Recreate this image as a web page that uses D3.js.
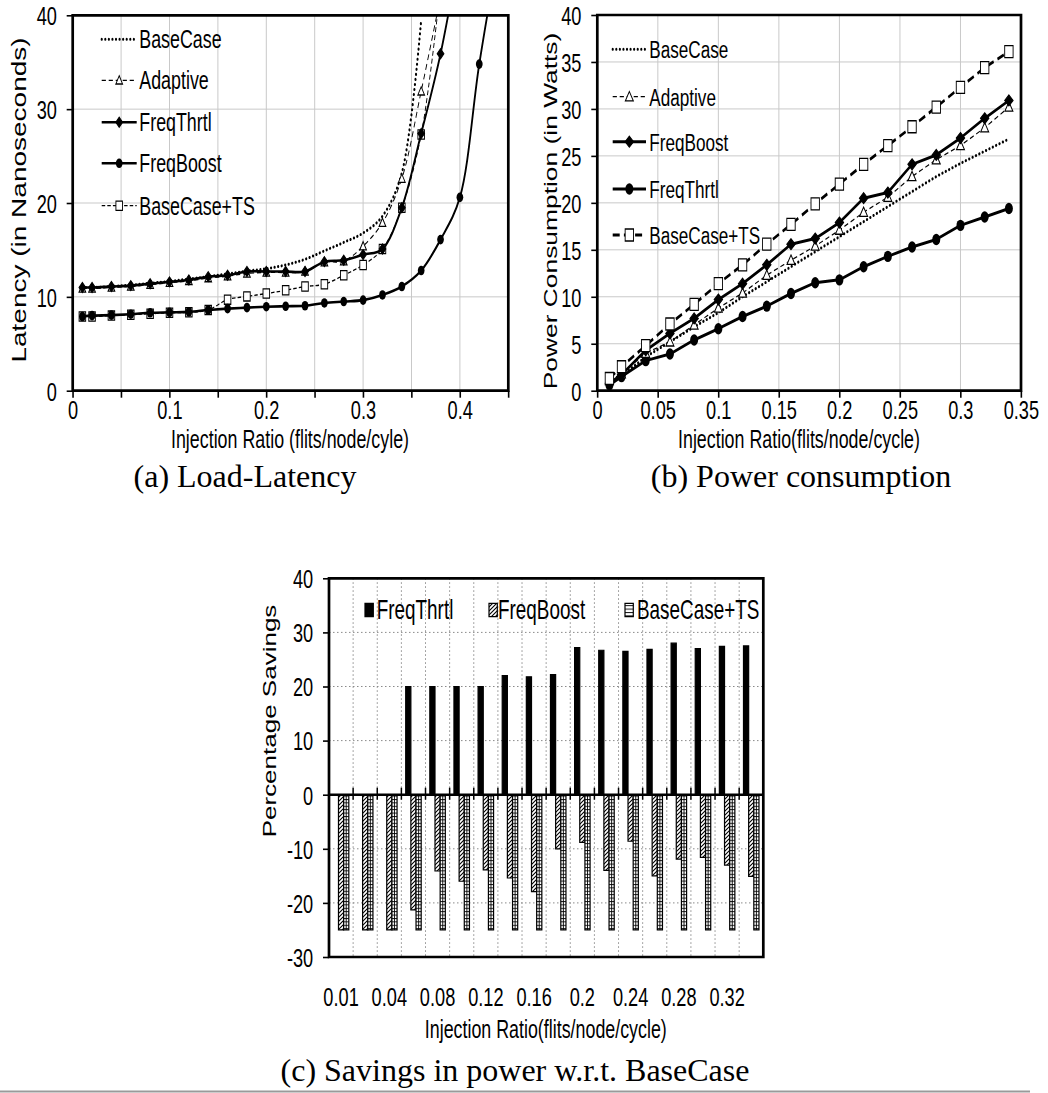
<!DOCTYPE html>
<html>
<head>
<meta charset="utf-8">
<script src="https://cdn.jsdelivr.net/npm/d3@7"></script>
<style>
  body { margin: 0; background: #fff; }
  svg { display: block; }
</style>
</head>
<body>
<svg id="fig" width="1048" height="1093"></svg>
<script>
// ---------- data: (a) latency vs injection ratio ----------
const latencyRates  = [0.01,0.02,0.04,0.06,0.08,0.10,0.12,0.14,0.16,0.18,0.20,0.22,0.24,0.26,0.28,0.30,0.32,0.34,0.36,0.38,0.40,0.42,0.44];
const latBaseCase   = [11.0,11.0,11.1,11.25,11.45,11.65,11.9,12.15,12.45,12.75,13.0,13.4,14.0,14.9,15.8,16.8,18.6,23.2,39.5];
const latAdaptive   = [10.9,10.9,11.0,11.1,11.3,11.5,11.7,12.0,12.2,12.5,12.6,12.6,12.7,13.7,13.8,15.4,17.9,22.6,31.9,42.0];
const latFreqThrtl  = [11.0,11.0,11.1,11.2,11.4,11.6,11.8,12.15,12.3,12.7,12.7,12.7,12.7,13.75,13.9,14.5,15.1,19.5,27.4,35.9,47.0];
const latFreqBoost  = [7.9,8.0,8.05,8.15,8.3,8.35,8.4,8.6,8.75,8.85,8.95,9.0,9.05,9.35,9.5,9.65,10.2,11.1,12.8,16.1,20.6,34.8,47.0];
const latBaseCaseTS = [7.9,7.9,8.0,8.1,8.2,8.3,8.35,8.6,9.7,10.05,10.35,10.7,11.1,11.35,12.3,13.4,15.1,19.5,27.3,43.0];
const latXTicks = [0,0.05,0.10,0.15,0.20,0.25,0.30,0.35,0.40,0.45];
const latYTicks = [0,10,20,30,40];

// ---------- data: (b) power vs injection ratio ----------
const powerRates    = [0.01,0.02,0.04,0.06,0.08,0.10,0.12,0.14,0.16,0.18,0.20,0.22,0.24,0.26,0.28,0.30,0.32,0.34];
const pwrBaseCase   = [0.8,1.6,3.6,5.2,6.8,8.3,10.0,11.6,13.2,14.8,16.4,18.0,19.6,21.2,22.8,24.2,25.5,26.8];
const pwrAdaptive   = [1.1,1.8,4.0,5.2,7.0,8.8,10.4,12.3,13.9,15.4,17.1,19.0,20.6,22.8,24.6,26.1,28.0,30.2];
const pwrFreqBoost  = [0.8,1.7,4.3,6.1,7.7,9.7,11.4,13.4,15.6,16.2,17.9,20.5,21.1,24.1,25.1,26.9,29.0,30.9];
const pwrFreqThrtl  = [0.6,1.5,3.2,3.9,5.4,6.6,7.9,9.0,10.35,11.5,11.8,13.2,14.3,15.3,16.1,17.6,18.5,19.4];
const pwrBaseCaseTS = [1.3,2.55,4.8,7.1,9.2,11.4,13.4,15.6,17.7,19.9,22.0,24.1,26.1,28.1,30.2,32.3,34.4,36.1];
const pwrXTicks = [0,0.05,0.10,0.15,0.20,0.25,0.30,0.35];
const pwrYTicks = [0,5,10,15,20,25,30,35,40];

// ---------- data: (c) savings w.r.t. BaseCase ----------
const savCategories  = ["0.01","0.02","0.04","0.06","0.08","0.1","0.12","0.14","0.16","0.18","0.2","0.22","0.24","0.26","0.28","0.3","0.32","0.34"];
const savFreqThrtl   = [0,0,0,20,20,20,20,22,21.8,22.2,27.2,26.7,26.5,26.85,28,27,27.4,27.5];
const savFreqBoost   = [-25,-25,-25,-21.3,-14.1,-16,-13.9,-15.4,-17.9,-10,-8.8,-14,-8.6,-15,-11.9,-11.6,-13,-15.1];
const savBaseCaseTS  = [-25,-25,-25,-25,-25,-25,-25,-25,-25,-25,-25,-25,-25,-25,-25,-25,-25,-25];
const savLabelled    = ["0.01","0.04","0.08","0.12","0.16","0.2","0.24","0.28","0.32"];
const savYTicks      = [-30,-20,-10,0,10,20,30,40];

// ---------- drawing ----------
const SX = 0.7;                       // horizontal squeeze of the chart artwork
const vx = x => x / SX;               // page x -> squeezed user x
const FONT = '"Liberation Sans", Arial, Helvetica, sans-serif';
const SERIF = '"Liberation Serif", "Times New Roman", serif';
const TICK_FONT = 26;
const TITLE_FONT = 25.5;
const svg = d3.select('#fig');
const defs = svg.append('defs');

// fill patterns for the bar chart (counter-squeezed so the hatch stays diagonal)
const hatch = defs.append('pattern').attr('id', 'hatch')
  .attr('patternUnits', 'userSpaceOnUse').attr('width', 4).attr('height', 4)
  .attr('patternTransform', `scale(${1 / SX},1)`);
hatch.append('rect').attr('width', 4).attr('height', 4).attr('fill', '#fff');
hatch.append('path').attr('d', 'M-1,1 l2,-2 M0,4 l4,-4 M3,5 l2,-2')
  .attr('stroke', '#000').attr('stroke-width', 1.1);
const ladder = defs.append('pattern').attr('id', 'ladder')
  .attr('patternUnits', 'userSpaceOnUse').attr('width', 10).attr('height', 3.4);
ladder.append('rect').attr('width', 10).attr('height', 3.4).attr('fill', '#fff');
ladder.append('line').attr('x1', 0).attr('x2', 10).attr('y1', 0.5).attr('y2', 0.5)
  .attr('stroke', '#000').attr('stroke-width', 0.9);

// marker shapes (user units, before squeeze)
function markerPath(kind, s) {
  if (kind === 'diamond') return `M0,${-s.h} L${s.w},0 L0,${s.h} L${-s.w},0 Z`;
  if (kind === 'square')  return `M${-s.w},${-s.h} H${s.w} V${s.h} H${-s.w} Z`;
  if (kind === 'triangle') return `M0,${-s.h} L${s.w},${s.h * 0.8} L${-s.w},${s.h * 0.8} Z`;
  return null;
}
function drawMarker(g, kind, cx, cy, size) {
  if (!kind) return;
  if (kind === 'circle') {
    g.append('circle').attr('cx', cx).attr('cy', cy).attr('r', size.r).attr('fill', '#000');
    return;
  }
  const filled = kind === 'diamond';
  g.append('path').attr('d', markerPath(kind, size[kind]))
    .attr('transform', `translate(${cx},${cy})`)
    .attr('fill', filled ? '#000' : '#fff')
    .attr('stroke', '#000').attr('stroke-width', 1.3);
}

let clipId = 0;
function linePanel(cfg) {
  const g = svg.append('g').attr('transform', `scale(${SX},1)`).attr('font-family', FONT);
  const x = d3.scaleLinear().domain(cfg.xDomain).range([vx(cfg.left), vx(cfg.right)]);
  const y = d3.scaleLinear().domain([0, 40]).range([cfg.bottom, cfg.top]);

  // light grid
  const grid = g.append('g').attr('stroke', '#c9c9c9').attr('stroke-width', 1);
  grid.selectAll('.gx').data(cfg.xTicks.slice(1, -1)).join('line')
    .attr('x1', d => x(d)).attr('x2', d => x(d)).attr('y1', cfg.top).attr('y2', cfg.bottom)
    .attr('vector-effect', 'non-scaling-stroke');
  grid.selectAll('.gy').data(cfg.yTicks.slice(1, -1)).join('line')
    .attr('x1', x.range()[0]).attr('x2', x.range()[1]).attr('y1', d => y(d)).attr('y2', d => y(d))
    .attr('vector-effect', 'non-scaling-stroke');

  // axes
  const xa = g.append('g').attr('transform', `translate(0,${cfg.bottom})`)
    .call(d3.axisBottom(x).tickValues(cfg.xTicks).tickSize(7).tickFormat(cfg.xFormat));
  xa.select('.domain').remove();
  xa.attr('font-family', FONT).attr('font-size', TICK_FONT);
  xa.selectAll('line').attr('stroke-width', 1.6).attr('vector-effect', 'non-scaling-stroke');
  xa.selectAll('text').attr('y', 28.8).attr('dy', null).attr('fill', '#000');

  const ya = g.append('g').attr('transform', `translate(${x.range()[0]},0)`)
    .call(d3.axisLeft(y).tickValues(cfg.yTicks).tickSize(8.6).tickPadding(cfg.yPad)
      .tickFormat(d => String(d)));
  ya.select('.domain').remove();
  ya.attr('font-family', FONT).attr('font-size', TICK_FONT);
  ya.selectAll('line').attr('stroke-width', 1.6).attr('vector-effect', 'non-scaling-stroke');
  ya.selectAll('text').attr('dy', '0.36em').attr('fill', '#000');

  // data lines, clipped to the plot box
  const cid = 'clip' + (clipId++);
  defs.append('clipPath').attr('id', cid).append('rect')
    .attr('x', x.range()[0]).attr('y', cfg.top)
    .attr('width', x.range()[1] - x.range()[0]).attr('height', cfg.bottom - cfg.top);
  const plot = g.append('g').attr('clip-path', `url(#${cid})`);
  cfg.series.forEach(s => {
    const pts = s.values.map((v, i) => [cfg.xs[i], v]);
    const line = d3.line().x(d => x(d[0])).y(d => y(d[1])).curve(cfg.curve);
    plot.append('path').attr('d', line(pts)).attr('fill', 'none')
      .attr('stroke', '#000').attr('stroke-width', s.width)
      .attr('stroke-dasharray', s.dash).attr('stroke-linecap', s.cap || 'butt')
      .attr('stroke-linejoin', 'round');
    pts.forEach(p => drawMarker(plot, s.marker, x(p[0]), y(p[1]), cfg.markerSize));
  });

  // legend
  const lg = g.append('g');
  cfg.legend.forEach((s, i) => {
    const cy = cfg.legendRows[i];
    lg.append('line').attr('x1', vx(cfg.legendX[0])).attr('x2', vx(cfg.legendX[1]))
      .attr('y1', cy).attr('y2', cy).attr('stroke', '#000').attr('stroke-width', s.width)
      .attr('stroke-dasharray', s.dash).attr('stroke-linecap', s.cap || 'butt');
    drawMarker(lg, s.marker, vx((cfg.legendX[0] + cfg.legendX[1]) / 2), cy, cfg.markerSize);
    lg.append('text').attr('x', vx(cfg.legendX[2])).attr('y', cy + 0.36 * cfg.legendFont)
      .attr('font-size', cfg.legendFont).text(s.name);
  });

  // frame
  g.append('rect').attr('x', x.range()[0]).attr('y', cfg.top)
    .attr('width', x.range()[1] - x.range()[0]).attr('height', cfg.bottom - cfg.top)
    .attr('fill', 'none').attr('stroke', '#000').attr('stroke-width', 2.7)
    .attr('vector-effect', 'non-scaling-stroke');

  // titles
  g.append('text').attr('x', vx(cfg.xTitle[0])).attr('y', cfg.xTitle[1])
    .attr('text-anchor', 'middle').attr('font-size', TITLE_FONT).text(cfg.xTitle[2]);
  g.append('text').attr('transform', `translate(${vx(cfg.yTitle[0])},${cfg.yTitle[1]}) rotate(-90)`)
    .attr('text-anchor', 'middle').attr('font-size', cfg.yTitle[3]).text(cfg.yTitle[2]);
  return g;
}

const fmtTick = d => String(+d.toFixed(2));

// styles shared by both line panels
const stBase   = { width: 3, dash: '0.1 5', cap: 'round', marker: null };
const stAdapt  = { width: 1.3, dash: '6 4', marker: 'triangle' };

// (a) Load-Latency
linePanel({
  left: 72.7, right: 508.3, top: 15.3, bottom: 390.7,
  xDomain: [0, 0.45], xTicks: latXTicks, yTicks: latYTicks,
  xFormat: d => (Math.round(d * 100) % 10 === 0 && d < 0.44) ? fmtTick(d) : '',
  yPad: 14, xs: latencyRates, curve: d3.curveCatmullRom.alpha(0.5),
  markerSize: { r: 4.8, diamond: { w: 4.8, h: 5 }, square: { w: 4.7, h: 4.6 }, triangle: { w: 4.8, h: 4.6 } },
  series: [
    Object.assign({ name: 'BaseCase', values: latBaseCase }, stBase),
    Object.assign({ name: 'Adaptive', values: latAdaptive }, stAdapt),
    { name: 'BaseCase+TS', values: latBaseCaseTS, width: 1.3, dash: '5 3', marker: 'square' },
    { name: 'FreqThrtl', values: latFreqThrtl, width: 2.6, dash: null, marker: 'diamond' },
    { name: 'FreqBoost', values: latFreqBoost, width: 2.6, dash: null, marker: 'circle' }
  ],
  legend: [
    Object.assign({ name: 'BaseCase' }, stBase),
    Object.assign({ name: 'Adaptive' }, stAdapt),
    { name: 'FreqThrtl', width: 2.6, marker: 'diamond' },
    { name: 'FreqBoost', width: 2.6, marker: 'circle' },
    { name: 'BaseCase+TS', width: 1.3, dash: '5 3', marker: 'square' }
  ],
  legendX: [101.7, 136.7, 139.3], legendRows: [39.3, 80.3, 122.3, 163.3, 205.7], legendFont: 25.5,
  xTitle: [290, 448, 'Injection Ratio (flits/node/cyle)'],
  yTitle: [25.7, 200, 'Latency (in Nanoseconds)', 28]
});

// (b) Power consumption
linePanel({
  left: 597.3, right: 1021, top: 15, bottom: 390.7,
  xDomain: [0, 0.35], xTicks: pwrXTicks, yTicks: pwrYTicks,
  xFormat: fmtTick, yPad: 14, xs: powerRates, curve: d3.curveLinear,
  markerSize: { r: 5.7, diamond: { w: 6, h: 5.5 }, square: { w: 6, h: 6 }, triangle: { w: 5.7, h: 5.2 } },
  series: [
    Object.assign({ name: 'BaseCase', values: pwrBaseCase }, stBase),
    { name: 'FreqThrtl', values: pwrFreqThrtl, width: 3, dash: null, marker: 'circle' },
    Object.assign({ name: 'Adaptive', values: pwrAdaptive }, stAdapt),
    { name: 'FreqBoost', values: pwrFreqBoost, width: 3, dash: null, marker: 'diamond' },
    { name: 'BaseCase+TS', values: pwrBaseCaseTS, width: 3, dash: '10 6', marker: 'square' }
  ],
  legend: [
    Object.assign({ name: 'BaseCase' }, stBase),
    Object.assign({ name: 'Adaptive' }, stAdapt),
    { name: 'FreqBoost', width: 3, marker: 'diamond' },
    { name: 'FreqThrtl', width: 3, marker: 'circle' },
    { name: 'BaseCase+TS', width: 3, dash: '10 6', marker: 'square' }
  ],
  legendX: [612.7, 646, 649.3], legendRows: [49.3, 96.7, 141.7, 189, 235], legendFont: 24.5,
  xTitle: [799, 448, 'Injection Ratio(flits/node/cycle)'],
  yTitle: [556.5, 211, 'Power Consumption (in Watts)', 26.4]
});

// (c) Savings in power w.r.t. BaseCase
(function barPanel() {
  const C = { left: 329, right: 763.3, top: 578.3, bottom: 957 };
  const g = svg.append('g').attr('transform', `scale(${SX},1)`).attr('font-family', FONT);
  const x = d3.scaleBand().domain(savCategories).range([vx(C.left), vx(C.right)])
    .paddingInner(0.358).paddingOuter(0.179);
  const seriesNames = ['FreqThrtl', 'FreqBoost', 'BaseCase+TS'];
  const fills = { 'FreqThrtl': '#000', 'FreqBoost': 'url(#hatch)', 'BaseCase+TS': 'url(#ladder)' };
  const xs = d3.scaleBand().domain(seriesNames).range([0, x.bandwidth()]);
  const y = d3.scaleLinear().domain([-30, 40]).range([C.bottom, C.top]);

  // dotted grid
  const grid = g.append('g').attr('stroke', '#8a8a8a').attr('stroke-width', 1)
    .attr('stroke-dasharray', '1.5 2.5');
  grid.selectAll('.gy').data(savYTicks.filter(d => d !== 0 && d !== -30 && d !== 40)).join('line')
    .attr('x1', vx(C.left)).attr('x2', vx(C.right)).attr('y1', d => y(d)).attr('y2', d => y(d))
    .attr('vector-effect', 'non-scaling-stroke');
  const bounds = savCategories.slice(1).map(c => x(c) - x.step() * x.paddingInner() / 2);
  grid.selectAll('.gx').data(bounds).join('line')
    .attr('x1', d => d).attr('x2', d => d).attr('y1', C.top).attr('y2', C.bottom)
    .attr('vector-effect', 'non-scaling-stroke');

  // bars
  const rows = [];
  savCategories.forEach((c, i) => {
    rows.push({ c, s: 'FreqThrtl', v: savFreqThrtl[i] });
    rows.push({ c, s: 'FreqBoost', v: savFreqBoost[i] });
    rows.push({ c, s: 'BaseCase+TS', v: savBaseCaseTS[i] });
  });
  const bars = rows.filter(d => d.v !== 0);
  g.append('g').selectAll('rect').data(bars).join('rect')
    .attr('x', d => x(d.c) + xs(d.s)).attr('width', xs.bandwidth())
    .attr('y', d => y(Math.max(0, d.v))).attr('height', d => Math.abs(y(d.v) - y(0)))
    .attr('fill', d => fills[d.s]).attr('stroke', '#000').attr('stroke-width', 1.2)
    .attr('vector-effect', 'non-scaling-stroke');
  // centre rail of the ladder-filled bars
  g.append('g').selectAll('line').data(bars.filter(d => d.s === 'BaseCase+TS')).join('line')
    .attr('x1', d => x(d.c) + xs(d.s) + xs.bandwidth() / 2)
    .attr('x2', d => x(d.c) + xs(d.s) + xs.bandwidth() / 2)
    .attr('y1', y(0)).attr('y2', d => y(d.v))
    .attr('stroke', '#000').attr('stroke-width', 0.9).attr('vector-effect', 'non-scaling-stroke');

  // zero line with category ticks
  g.append('line').attr('x1', vx(C.left)).attr('x2', vx(C.right)).attr('y1', y(0)).attr('y2', y(0))
    .attr('stroke', '#000').attr('stroke-width', 2.6);
  g.append('g').selectAll('line').data(bounds).join('line')
    .attr('x1', d => d).attr('x2', d => d).attr('y1', y(0) - 7).attr('y2', y(0) + 5)
    .attr('stroke', '#000').attr('stroke-width', 1.5).attr('vector-effect', 'non-scaling-stroke');

  // axes
  const ya = g.append('g').attr('transform', `translate(${vx(C.left)},0)`)
    .call(d3.axisLeft(y).tickValues(savYTicks).tickSize(8.6).tickPadding(14)
      .tickFormat(d => String(d)));
  ya.select('.domain').remove();
  ya.attr('font-family', FONT).attr('font-size', TICK_FONT);
  ya.selectAll('line').attr('stroke-width', 1.6).attr('vector-effect', 'non-scaling-stroke');
  ya.selectAll('text').attr('dy', '0.36em').attr('fill', '#000');

  const xa = g.append('g').attr('transform', `translate(0,${C.bottom})`)
    .call(d3.axisBottom(x).tickValues(savLabelled).tickSize(0));
  xa.select('.domain').remove();
  xa.attr('font-family', FONT).attr('font-size', TICK_FONT);
  xa.selectAll('text').attr('y', 49).attr('dy', null).attr('fill', '#000');

  // frame
  g.append('rect').attr('x', vx(C.left)).attr('y', C.top)
    .attr('width', vx(C.right) - vx(C.left)).attr('height', C.bottom - C.top)
    .attr('fill', 'none').attr('stroke', '#000').attr('stroke-width', 2.7)
    .attr('vector-effect', 'non-scaling-stroke');

  // legend
  const legendItems = [
    { s: 'FreqThrtl', box: 365, tx: 376.7 },
    { s: 'FreqBoost', box: 489, tx: 498 },
    { s: 'BaseCase+TS', box: 625, tx: 637 }
  ];
  const lg = g.append('g');
  legendItems.forEach(it => {
    lg.append('rect').attr('x', vx(it.box)).attr('y', 603.3).attr('width', vx(8.3)).attr('height', 13.3)
      .attr('fill', fills[it.s]).attr('stroke', '#000').attr('stroke-width', 1.2)
      .attr('vector-effect', 'non-scaling-stroke');
    lg.append('text').attr('x', vx(it.tx)).attr('y', 609.5 + 0.36 * 27).attr('font-size', 27).text(it.s);
  });

  // titles
  g.append('text').attr('x', vx(545.8)).attr('y', 1038.5).attr('text-anchor', 'middle')
    .attr('font-size', TITLE_FONT).text('Injection Ratio(flits/node/cycle)');
  g.append('text').attr('transform', `translate(${vx(276)},721) rotate(-90)`)
    .attr('text-anchor', 'middle').attr('font-size', 26).text('Percentage Savings');
})();

// sub-figure captions
const captions = [
  { text: '(a) Load-Latency', x: 245, y: 487 },
  { text: '(b) Power consumption', x: 801, y: 487 },
  { text: '(c) Savings in power w.r.t. BaseCase', x: 515, y: 1081 }
];
svg.append('g').selectAll('text').data(captions).join('text')
  .attr('x', d => d.x).attr('y', d => d.y).attr('text-anchor', 'middle')
  .attr('font-family', SERIF).attr('font-size', 32).attr('fill', '#000')
  .text(d => d.text);

// page rule at the foot
svg.append('line').attr('x1', 0).attr('x2', 1030).attr('y1', 1091.5).attr('y2', 1091.5)
  .attr('stroke', '#9a9a9a').attr('stroke-width', 2);
</script>
</body>
</html>
